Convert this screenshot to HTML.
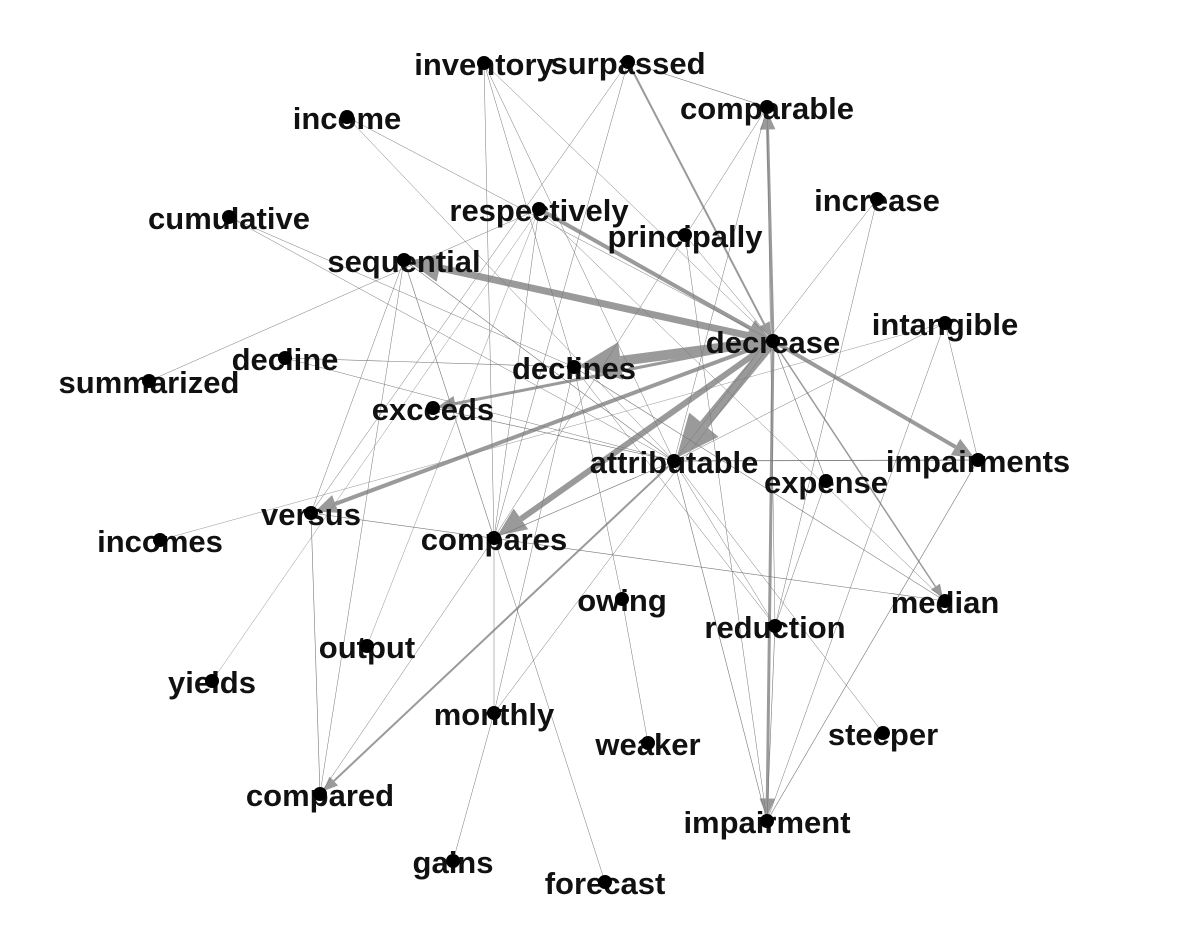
<!DOCTYPE html>
<html><head><meta charset="utf-8"><style>
html,body{margin:0;padding:0;background:#fff;}
svg text{font-family:"Liberation Sans",Arial,sans-serif;font-weight:bold;font-size:31px;fill:#111;}
</style></head><body>
<svg id="g" width="1186" height="924"></svg>
<script>
const nodeNames=["inventory","surpassed","comparable","income","increase","cumulative","respectively","principally","sequential","decrease","intangible","decline","summarized","declines","exceeds","attributable","impairments","expense","versus","incomes","compares","owing","median","reduction","output","yields","monthly","weaker","steeper","compared","impairment","gains","forecast"];
const nodeX=[484,628,767,347,877,229,539,685,404,773,945,285,149,574,433,674,978,826,311,160,494,622,945,775,367,212,494,648,883,320,767,453,605];
const nodeY=[63,62,107,117,199,217,209,235,260,341,323,358,381,367,408,461,460,481,513,540,538,599,601,626,646,681,713,743,733,794,821,861,882];
const edgeFrom=["decrease","decrease","decrease","decrease","decrease","decrease","decrease","decrease","decrease","respectively","surpassed","attributable","decrease",
"surpassed","inventory","inventory","inventory","inventory","surpassed","surpassed","income","income","cumulative","cumulative","summarized","sequential","sequential","sequential","decline","decline","respectively","respectively","respectively","comparable","comparable","comparable","principally","principally","increase","increase","intangible","intangible","intangible","intangible","declines","declines","declines","declines","exceeds","attributable","attributable","attributable","attributable","attributable","versus","versus","compares","compares","compares","decrease","owing","gains","reduction","impairments","expense","monthly","sequential","respectively"];
const edgeTo=["declines","attributable","compares","sequential","versus","impairments","impairment","comparable","exceeds","decrease","decrease","compared","median",
"comparable","compares","declines","attributable","decrease","versus","compares","decrease","attributable","attributable","declines","respectively","compares","versus","attributable","declines","attributable","compares","yields","output","compares","attributable","reduction","decrease","impairment","attributable","reduction","attributable","impairments","impairment","incomes","median","owing","monthly","reduction","attributable","impairments","compares","impairment","steeper","reduction","median","compared","forecast","compared","monthly","expense","weaker","monthly","impairment","impairment","reduction","decrease","compared","median"];
const edgeW=[10,10,6,7,4,4,3,3,3,4,2,2,1.5,
0.6,0.5,0.5,0.5,0.5,0.5,0.5,0.5,0.5,0.5,0.5,0.5,0.6,0.5,0.6,0.6,0.5,0.5,0.4,0.4,0.5,0.5,0.5,0.5,0.5,0.5,0.5,0.5,0.5,0.5,0.4,0.6,0.5,0.5,0.5,0.6,0.8,0.6,0.6,0.5,0.5,0.6,0.6,0.5,0.5,0.5,0.6,0.5,0.5,0.6,0.6,0.5,0.5,0.5,0.5];
const svg=document.getElementById('g');
const NS="http://www.w3.org/2000/svg";
function idx(n){return nodeNames.indexOf(n);}
const eg=document.createElementNS(NS,'g');


svg.appendChild(eg);
for(let i=0;i<edgeFrom.length;i++){
  const a=idx(edgeFrom[i]),b=idx(edgeTo[i]),w=edgeW[i];
  const x1=nodeX[a],y1=nodeY[a],x2=nodeX[b],y2=nodeY[b];
  const dx=x2-x1,dy=y2-y1,L=Math.hypot(dx,dy),ux=dx/L,uy=dy/L;
  const col=w>=1?'#9a9a9a':'#777';
  const hl=w>=1?8+w*3.5:0;
  const ex=x2-ux*(4+hl),ey=y2-uy*(4+hl);
  const ln=document.createElementNS(NS,'line');
  
  
  ln.setAttribute('x1',x1);ln.setAttribute('y1',y1);
  ln.setAttribute('x2',w>=1?ex:x2);ln.setAttribute('y2',w>=1?ey:y2);
  ln.setAttribute('stroke',col);ln.setAttribute('stroke-width',w);
  eg.appendChild(ln);
  if(w>=1){
    const hw=3+w*1.6;
    const tx=x2-ux*4,ty=y2-uy*4;
    const p=document.createElementNS(NS,'polygon');
    
    
    p.setAttribute('points',`${tx},${ty} ${ex-uy*hw},${ey+ux*hw} ${ex+uy*hw},${ey-ux*hw}`);
    p.setAttribute('fill',col);
    eg.appendChild(p);
  }
}
for(let i=0;i<nodeNames.length;i++){
  const t=document.createElementNS(NS,'text');
  
  
  t.setAttribute('x',nodeX[i]);t.setAttribute('y',nodeY[i]+12);
  t.setAttribute('text-anchor','middle');
  t.textContent=nodeNames[i];
  svg.appendChild(t);
}
for(let i=0;i<nodeNames.length;i++){
  const c=document.createElementNS(NS,'circle');
  
  
  c.setAttribute('cx',nodeX[i]);c.setAttribute('cy',nodeY[i]);c.setAttribute('r',7);
  c.setAttribute('fill','#000');
  svg.appendChild(c);
}
</script>
</body></html>
